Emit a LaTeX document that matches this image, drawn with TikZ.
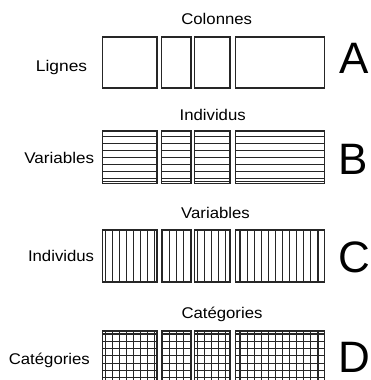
\documentclass[tikz,border=0pt]{standalone}
\usepackage{fontspec}
\setmainfont{Liberation Sans}
\newcommand\rowboxes[2]{%
  \foreach \l/\r in {102.5/157,161.7/191,194.5/230,235.7/324.2}{%
    \draw[box] (\l,#1) rectangle (\r,#2);}}
\newcommand\vgrid[2]{%
  \foreach \l/\r in {102.5/157,161.7/191,194.5/230,235.7/324.2}{%
    \begin{scope}
      \clip (\l,#1) rectangle (\r,#2);
      \foreach \k in {0,...,30}{\draw[gl] ({105.3+7.09*\k},#1) -- ({105.3+7.09*\k},#2);}
    \end{scope}}}
\newcommand\hgrid[5]{% top, bottom, first, step, last index
  \foreach \l/\r in {102.5/157,161.7/191,194.5/230,235.7/324.2}{%
    \begin{scope}
      \clip (\l,#1) rectangle (\r,#2);
      \foreach \k in {0,...,#5}{\draw[gl] (\l,{#3+#4*\k}) -- (\r,{#3+#4*\k});}
    \end{scope}}}
\begin{document}
\begin{tikzpicture}[x=1pt,y=-1pt,
  box/.style={draw=black!85,line width=1.3pt},
  gl/.style={draw=black!85,line width=1.1pt},
  lbl/.style={inner sep=0pt,font=\fontsize{15.5}{15.5}\selectfont},
  big/.style={inner sep=0pt,text depth=0pt,font=\fontsize{44}{44}\selectfont}]
\useasboundingbox (0,0) rectangle (371,380);
\clip (0,0) rectangle (371,380);
% Row A
\rowboxes{37}{88}
% Row B
\hgrid{131}{183.5}{136.8}{7.0}{6}
\foreach \l/\r in {102.5/157,161.7/191,194.5/230,235.7/324.2}{\draw[gl] (\l,181.2) -- (\r,181.2);}
\rowboxes{131}{183.5}
% Row C
\vgrid{230}{282}
\rowboxes{230}{282}
% Row D
\vgrid{331}{383}
\hgrid{331}{383}{334}{7.3}{8}
\rowboxes{331}{383}
% top labels
\node[lbl,anchor=base] (tA) at (216.7,24) {\scalebox{1.08}[1]{Colonnes}};
\node[lbl,anchor=base] (tB) at (212.7,120) {\scalebox{1.08}[1]{Individus}};
\node[lbl,anchor=base] (tC) at (215.5,218) {\scalebox{1.08}[1]{Variables}};
\node[lbl,anchor=base] (tD) at (222,318) {\scalebox{1.08}[1]{Catégories}};
% left labels
\node[lbl,anchor=base east] (sA) at (87.3,71) {\scalebox{1.12}[1]{Lignes}};
\node[lbl,anchor=base east] (sB) at (94.3,163.3) {\scalebox{1.1}[1]{Variables}};
\node[lbl,anchor=base east] (sC) at (94.3,261) {\scalebox{1.08}[1]{Individus}};
\node[lbl,anchor=base east] (sD) at (90,364) {\scalebox{1.08}[1]{Catégories}};
% letters
\node[big,anchor=base west] (LA) at (338.8,73.5) {A};
\node[big,anchor=base west] (LB) at (338.5,174.5) {B};
\node[big,anchor=base west] (LC) at (338.5,272) {C};
\node[big,anchor=base west] (LD) at (338,372.5) {D};
\end{tikzpicture}
\end{document}
